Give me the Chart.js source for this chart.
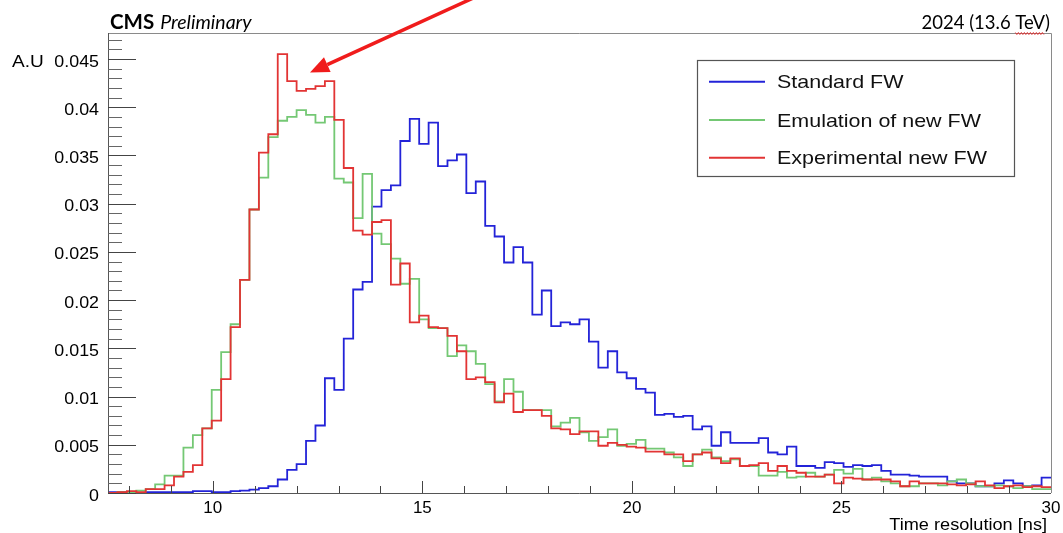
<!DOCTYPE html>
<html>
<head>
<meta charset="utf-8">
<script src="https://cdn.jsdelivr.net/npm/chart.js@4/dist/chart.umd.min.js"></script>
<style>
  html, body { margin: 0; padding: 0; background: #ffffff; }
  #wrap { position: relative; width: 1063px; height: 533px; }
</style>
</head>
<body>
<div id="wrap"><canvas id="c" width="1063" height="533"></canvas></div>
<script>
// Histogram binning: 100 bins between 7.5 and 30 ns
const xMin = 7.5;
const xMax = 30;
const nBins = 100;
const yMax = 0.0477;

const xTickLabels = [10, 15, 20, 25, 30];
const yTickLabels = ['0', '0.005', '0.01', '0.015', '0.02', '0.025', '0.03', '0.035', '0.04', '0.045'];

const seriesNames = ['Standard FW', 'Emulation of new FW', 'Experimental new FW'];
const seriesColors = ['#2323d8', '#74c874', '#e23434'];

// Normalised bin contents (A.U), one value per bin
const standardFW = [
  0.0001, 0.0001, 0.0001, 0.0000, 0.0001, 0.0001, 0.0001, 0.0001, 0.0001, 0.0002,
  0.0002, 0.0001, 0.0001, 0.0002, 0.00024, 0.00035, 0.0005, 0.0007, 0.0014, 0.0024,
  0.0030, 0.0054, 0.0070, 0.0119, 0.0107, 0.0160, 0.0211, 0.0219, 0.0297, 0.0314,
  0.0319, 0.0365, 0.0388, 0.0362, 0.0384, 0.0339, 0.0345, 0.0351, 0.0311, 0.0323,
  0.0277, 0.0266, 0.0239, 0.0255, 0.0239, 0.0185, 0.0210, 0.0173, 0.0177, 0.0175,
  0.0180, 0.0157, 0.0130, 0.0147, 0.0125, 0.0119, 0.0108, 0.0104, 0.0081, 0.0082,
  0.0079, 0.0080, 0.0066, 0.0069, 0.0049, 0.0063, 0.0052, 0.0052, 0.0052, 0.0057,
  0.0042, 0.0040, 0.0048, 0.0028, 0.0028, 0.0026, 0.0032, 0.0031, 0.0027, 0.0029,
  0.0028, 0.0029, 0.0023, 0.0019, 0.0019, 0.0018, 0.0017, 0.0017, 0.0017, 0.0012,
  0.0010, 0.0010, 0.0007, 0.0007, 0.0010, 0.0013, 0.0010, 0.0007, 0.0008, 0.0016
];

const emulationFW = [
  0.0000, 0.0001, 0.0001, 0.00024, 0.0004, 0.0009, 0.0018, 0.0018, 0.0047, 0.0060,
  0.0067, 0.0107, 0.0146, 0.0175, 0.0221, 0.0294, 0.0327, 0.0369, 0.0386, 0.0390,
  0.0397, 0.0392, 0.0384, 0.0390, 0.0326, 0.0322, 0.0285, 0.0331, 0.0269, 0.0258,
  0.0243, 0.0217, 0.0222, 0.0180, 0.0171, 0.0171, 0.0142, 0.0153, 0.0147, 0.0134,
  0.0113, 0.0095, 0.0118, 0.0105, 0.0086, 0.0086, 0.0086, 0.0069, 0.0073, 0.0078,
  0.0063, 0.0054, 0.0058, 0.0066, 0.0049, 0.0051, 0.0055, 0.0046, 0.0046, 0.0042,
  0.0037, 0.0028, 0.0040, 0.0045, 0.0037, 0.0033, 0.0035, 0.0028, 0.0028, 0.0018,
  0.0018, 0.0022, 0.0016, 0.0017, 0.0021, 0.0017, 0.0019, 0.0024, 0.0020, 0.0025,
  0.0014, 0.0016, 0.0012, 0.0010, 0.0007, 0.0007, 0.0010, 0.0010, 0.0008, 0.0012,
  0.0014, 0.0010, 0.0007, 0.0007, 0.0008, 0.0007, 0.0005, 0.0007, 0.0004, 0.0004
];

const experimentalFW = [
  0.0000, 0.0001, 0.0002, 0.0001, 0.0004, 0.0004, 0.0008, 0.0017, 0.0022, 0.0029,
  0.0067, 0.0075, 0.0118, 0.0172, 0.0221, 0.0294, 0.0353, 0.0372, 0.0455, 0.0427,
  0.0417, 0.0419, 0.0422, 0.0427, 0.0387, 0.0337, 0.0272, 0.0268, 0.0281, 0.0283,
  0.0216, 0.0238, 0.0177, 0.0184, 0.0172, 0.0171, 0.0163, 0.0147, 0.0118, 0.0120,
  0.0115, 0.0094, 0.0103, 0.0084, 0.0086, 0.0086, 0.0080, 0.0067, 0.0066, 0.0061,
  0.0064, 0.0064, 0.0049, 0.0052, 0.0050, 0.0048, 0.0047, 0.0043, 0.0043, 0.0040,
  0.0040, 0.0033, 0.0040, 0.0042, 0.0036, 0.0031, 0.0036, 0.0028, 0.0029, 0.0031,
  0.0023, 0.0028, 0.0023, 0.0021, 0.0017, 0.0017, 0.0019, 0.0010, 0.0016, 0.0015,
  0.0014, 0.0014, 0.0014, 0.0012, 0.0007, 0.0012, 0.0010, 0.0010, 0.0010, 0.0009,
  0.0008, 0.0009, 0.0012, 0.0008, 0.0005, 0.0007, 0.0008, 0.0006, 0.0007, 0.0006
];

// Arrow pointing at the dip after the experimental-FW peak (data coordinates)
const arrowFrom = { x: 16.3, y: 0.0515 };
const arrowTo = { x: 12.32, y: 0.0436 };

// Turn bin contents into step points at the low edge of each bin
function toSteps(values) {
  const w = (xMax - xMin) / nBins;
  const pts = values.map((v, i) => ({ x: xMin + i * w, y: v }));
  pts.push({ x: xMax, y: values[values.length - 1] });
  return pts;
}

function drawText(ctx, s, x, y, font, align, color, sx) {
  ctx.save();
  ctx.font = font;
  ctx.fillStyle = color || '#000';
  ctx.textAlign = align || 'left';
  ctx.textBaseline = 'alphabetic';
  ctx.translate(x, y);
  ctx.scale(sx || 1, 1);
  ctx.fillText(s, 0, 0);
  ctx.restore();
}

const frame = {
  id: 'rootFrame',
  afterDatasetsDraw(chart) {
    const ctx = chart.ctx;
    const a = chart.chartArea;
    const xs = chart.scales.x, ys = chart.scales.y;
    ctx.save();

    // frame
    ctx.lineWidth = 1;
    ctx.strokeStyle = '#8a8a8a';
    ctx.beginPath();
    ctx.moveTo(a.left, a.top + 0.5); ctx.lineTo(a.right + 0.5, a.top + 0.5); ctx.lineTo(a.right + 0.5, a.bottom);
    ctx.stroke();
    ctx.strokeStyle = '#555';
    ctx.beginPath();
    ctx.moveTo(a.left + 0.5, a.top); ctx.lineTo(a.left + 0.5, a.bottom + 0.5); ctx.lineTo(a.right, a.bottom + 0.5);
    ctx.stroke();

    // y ticks: major every 0.005, minor every 0.001
    for (let i = 0; i <= 47; i++) {
      const v = i * 0.001;
      if (v > yMax) break;
      const py = Math.round(ys.getPixelForValue(v)) + 0.5;
      const major = i % 5 === 0;
      ctx.strokeStyle = major ? '#444' : '#666';
      ctx.beginPath();
      ctx.moveTo(a.left, py);
      ctx.lineTo(a.left + (major ? 28 : 14), py);
      ctx.stroke();
    }
    // x ticks every 1 ns
    for (let t = 8; t < xMax; t++) {
      const px = Math.round(xs.getPixelForValue(t)) + 0.5;
      const major = xTickLabels.includes(t);
      ctx.strokeStyle = '#444';
      ctx.beginPath();
      ctx.moveTo(px, a.bottom);
      ctx.lineTo(px, a.bottom - (major ? 12 : 7));
      ctx.stroke();
    }

    // tick labels
    const tickFont = '17px "Liberation Sans", Arial, sans-serif';
    yTickLabels.forEach(lbl => {
      const py = ys.getPixelForValue(parseFloat(lbl));
      drawText(ctx, lbl, a.left - 9, py + 7.5, tickFont, 'right', '#000', 1.05);
    });
    xTickLabels.forEach(t => {
      const px = xs.getPixelForValue(t);
      drawText(ctx, String(t), px, 513, tickFont, 'center', '#000', 1.0);
    });

    // axis titles
    drawText(ctx, 'A.U', 12, ys.getPixelForValue(0.045) + 7.5, tickFont, 'left', '#000', 1.12);
    drawText(ctx, 'Time resolution [ns]', 1047, 530, '16.5px "Liberation Sans", Arial, sans-serif', 'right', '#000', 1.10);

    // header
    const cmsFont = 'bold 20.5px Lato, "Open Sans", sans-serif';
    ctx.font = cmsFont;
    const cmsW = ctx.measureText('CMS').width;
    drawText(ctx, 'CMS', 110, 29, cmsFont, 'left', '#000', 1);
    drawText(ctx, 'Preliminary', 110 + cmsW + 6, 29, 'italic 19.5px Lato, "Open Sans", sans-serif', 'left', '#000', 1);
    const hdrFont = '18.5px Lato, "Open Sans", sans-serif';
    const hdr = '2024 (13.6 TeV)';
    drawText(ctx, hdr, 1050, 29, hdrFont, 'right', '#000', 1);
    ctx.font = hdrFont;
    const sqStart = 1050 - ctx.measureText('TeV)').width;
    const sqEnd = 1050 - ctx.measureText(')').width;
    ctx.strokeStyle = '#e03030';
    ctx.lineWidth = 1;
    ctx.beginPath();
    for (let x = sqStart, k = 0; x <= sqEnd; x += 1.5, k++) {
      const y = 33.5 + (k % 2 === 0 ? -1 : 1);
      if (k === 0) ctx.moveTo(x, y); else ctx.lineTo(x, y);
    }
    ctx.stroke();

    // legend
    ctx.lineWidth = 1.2;
    ctx.strokeStyle = '#555';
    ctx.strokeRect(697.5, 60.5, 317, 116);
    const rows = [81.7, 120, 157.7];
    const legFont = '18.5px "Liberation Sans", Arial, sans-serif';
    chart.data.datasets.forEach((ds, i) => {
      ctx.strokeStyle = ds.borderColor;
      ctx.lineWidth = 2;
      ctx.beginPath();
      ctx.moveTo(709, rows[i]);
      ctx.lineTo(765, rows[i]);
      ctx.stroke();
      drawText(ctx, ds.label, 777, rows[i] + 6.7, legFont, 'left', '#111', 1.16);
    });

    // arrow
    const x0 = xs.getPixelForValue(arrowFrom.x), y0 = ys.getPixelForValue(arrowFrom.y);
    const x1 = xs.getPixelForValue(arrowTo.x), y1 = ys.getPixelForValue(arrowTo.y);
    const ang = Math.atan2(y1 - y0, x1 - x0);
    const hl = 19, hw = 8;
    const bx = x1 - hl * Math.cos(ang), by = y1 - hl * Math.sin(ang);
    ctx.strokeStyle = '#f01c1c';
    ctx.fillStyle = '#f01c1c';
    ctx.lineWidth = 3.5;
    ctx.beginPath();
    ctx.moveTo(x0, y0);
    ctx.lineTo(bx, by);
    ctx.stroke();
    ctx.beginPath();
    ctx.moveTo(x1, y1);
    ctx.lineTo(bx + hw * Math.sin(ang), by - hw * Math.cos(ang));
    ctx.lineTo(bx - hw * Math.sin(ang), by + hw * Math.cos(ang));
    ctx.closePath();
    ctx.fill();

    ctx.restore();
  }
};

const mkSet = (i, values, order) => ({
  label: seriesNames[i],
  data: toSteps(values),
  borderColor: seriesColors[i],
  backgroundColor: seriesColors[i],
  borderWidth: 1.8,
  stepped: true,
  pointRadius: 0,
  fill: false,
  order: order
});

new Chart(document.getElementById('c'), {
  type: 'line',
  data: {
    datasets: [
      mkSet(0, standardFW, 2),
      mkSet(1, emulationFW, 1),
      mkSet(2, experimentalFW, 0)
    ]
  },
  options: {
    responsive: false,
    animation: false,
    events: [],
    layout: { padding: { left: 108, right: 12, top: 33, bottom: 40 } },
    plugins: { legend: { display: false }, tooltip: { enabled: false } },
    scales: {
      x: { type: 'linear', min: xMin, max: xMax, display: false },
      y: { min: 0, max: yMax, display: false }
    }
  },
  plugins: [frame]
});
</script>
</body>
</html>
